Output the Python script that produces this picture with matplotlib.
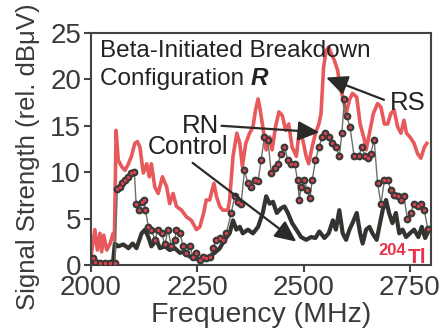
import matplotlib
matplotlib.use("Agg")
import matplotlib.pyplot as plt

plt.rcParams['font.family'] = ['Liberation Sans', 'DejaVu Sans']

# RS (red) trace
rs_freq = [2000, 2009, 2015, 2021, 2025, 2030, 2037, 2045, 2052, 2055, 2059, 2064,
           2072, 2080, 2088, 2095, 2103, 2109, 2115, 2123, 2131, 2137, 2142, 2150,
           2158, 2168, 2178, 2185, 2193, 2201, 2213, 2224, 2236, 2248, 2256, 2265,
           2271, 2279, 2289, 2295, 2303, 2310, 2322, 2326, 2334, 2343, 2350, 2356,
           2364, 2373, 2381, 2387, 2393, 2398, 2404, 2412, 2420, 2426, 2434, 2442,
           2450, 2458, 2465, 2473, 2483, 2490, 2498, 2506, 2512, 2520, 2528, 2536,
           2541, 2547, 2553, 2559, 2565, 2572, 2580, 2586, 2592, 2600, 2608, 2615,
           2625, 2633, 2643, 2647, 2655, 2664, 2674, 2682, 2690, 2698, 2705, 2713,
           2721, 2729, 2736, 2742, 2750, 2760, 2768, 2776, 2784, 2790]
rs_vals = [0.9, 3.8, 1.6, 3.4, 1.4, 3.2, 1.6, 2.3, 3.4, 2.7, 14.5, 11.3,
           10.6, 10.2, 10.9, 11.7, 13.1, 13.3, 12.7, 9.9, 10.9, 9.5, 10.9, 8.4,
           7.7, 9.5, 8.4, 6.6, 7.7, 6.3, 5.9, 5.2, 4.8, 3.8, 4.1, 5.6,
           7.0, 7.0, 8.8, 7.4, 6.3, 5.9, 5.9, 7.0, 11.7, 14.2, 13.1, 10.6,
           13.1, 14.2, 14.9, 16.7, 17.9, 16.7, 14.9, 12.4, 13.8, 12.4, 14.9, 16.5,
           16.1, 14.5, 15.2, 12.7, 11.7, 14.5, 13.5, 11.7, 10.9, 12.7, 14.2, 15.2,
           16.3, 21.3, 23.1, 23.5, 22.8, 22.1, 21.0, 19.2, 18.1, 16.3, 17.8, 18.5,
           18.1, 15.2, 13.5, 12.4, 14.2, 16.3, 17.4, 17.0, 15.2, 15.2, 16.3, 16.7,
           14.9, 14.2, 15.6, 14.2, 13.8, 13.1, 12.0, 11.5, 12.7, 13.1]

# RN (grey with markers) trace
rn_freq = [2004, 2009, 2020, 2032, 2044, 2056, 2062, 2068, 2074, 2081, 2088, 2095,
           2102, 2106, 2113, 2119, 2124, 2128, 2135, 2142, 2150, 2158, 2166, 2174,
           2181, 2189, 2197, 2201, 2209, 2217, 2224, 2232, 2240, 2248, 2256, 2264,
           2271, 2279, 2287, 2295, 2303, 2310, 2318, 2330, 2338, 2346, 2353, 2361,
           2369, 2377, 2385, 2393, 2400, 2408, 2416, 2424, 2432, 2440, 2447, 2455,
           2463, 2471, 2479, 2486, 2490, 2494, 2502, 2508, 2515, 2520, 2528, 2536,
           2544, 2551, 2559, 2567, 2576, 2584, 2590, 2596, 2601, 2609, 2619, 2630,
           2637, 2645, 2651, 2658, 2666, 2674, 2682, 2690, 2698, 2705, 2713, 2721,
           2729, 2736, 2744, 2752, 2760, 2768, 2776, 2784, 2792]
rn_vals = [0.7, 0.35, 0.2, 0.2, 0.2, 0.2, 8.2, 8.4, 8.8, 9.1, 9.5, 9.9,
           10.0, 6.6, 5.9, 6.8, 7.0, 5.9, 4.1, 3.8, 2.7, 3.8, 3.4, 2.2,
           3.8, 2.0, 2.7, 3.8, 3.4, 2.0, 1.3, 2.0, 0.9, 1.3, 0.5, 0.9,
           0.7, 0.9, 1.8, 2.7, 2.9, 2.7, 3.4, 5.6, 7.4, 6.8, 6.6, 10.2,
           8.8, 8.4, 9.1, 9.0, 11.3, 13.8, 13.5, 9.9, 10.4, 10.9, 12.0, 12.7,
           11.3, 10.9, 10.9, 9.1, 7.0, 8.4, 9.1, 8.1, 7.2, 9.1, 11.3, 12.7,
           13.8, 14.2, 13.8, 13.1, 12.7, 11.7, 14.2, 17.9, 16.1, 14.9, 11.7, 11.7,
           12.7, 11.7, 11.5, 12.0, 13.5, 8.8, 6.6, 9.1, 9.1, 8.1, 7.5, 7.4,
           7.0, 7.4, 5.0, 5.6, 6.6, 6.3, 6.6, 5.9, 3.9]

# Control (thick black) trace
ctl_freq = [2000, 2009, 2020, 2037, 2052, 2056, 2064, 2076, 2088, 2098, 2107, 2119,
            2127, 2135, 2142, 2154, 2162, 2174, 2185, 2197, 2209, 2221, 2232, 2244,
            2256, 2267, 2279, 2291, 2303, 2314, 2326, 2334, 2342, 2350, 2357, 2369,
            2381, 2393, 2404, 2412, 2420, 2428, 2437, 2447, 2455, 2463, 2473, 2483,
            2494, 2506, 2518, 2528, 2537, 2549, 2559, 2569, 2576, 2584, 2592, 2600,
            2608, 2615, 2625, 2633, 2639, 2647, 2655, 2662, 2672, 2678, 2686, 2694,
            2701, 2709, 2717, 2725, 2733, 2741, 2750, 2760, 2770, 2778, 2786, 2795]
ctl_vals = [0.7, 0.35, 0.2, 0.2, 0.35, 2.3, 2.0, 2.2, 1.8, 2.3, 1.8, 3.4,
            3.8, 3.0, 2.0, 2.7, 1.8, 2.0, 1.6, 1.8, 1.3, 1.4, 0.9, 0.7,
            0.5, 0.7, 0.9, 1.3, 1.8, 2.7, 3.4, 4.8, 3.8, 4.1, 3.4, 3.8,
            3.4, 4.1, 5.6, 7.4, 6.6, 6.8, 5.6, 6.1, 6.3, 5.6, 4.5, 3.8,
            3.0, 2.7, 3.0, 2.9, 3.6, 2.9, 3.4, 4.8, 3.8, 5.9, 3.4, 2.7,
            3.8, 4.5, 5.6, 3.4, 2.3, 3.8, 4.1, 3.4, 2.7, 4.1, 5.9, 7.0,
            5.6, 4.5, 5.6, 3.4, 3.8, 3.0, 3.4, 3.8, 3.0, 4.1, 2.9, 3.8]

RED = '#e8595b'
DARK = '#333330'
AXC = '#444444'
TXT = '#222222'
ISO = '#e8334a'

fig = plt.figure(figsize=(4.44, 3.34), dpi=100)
ax = fig.add_axes([0.205, 0.207, 0.766, 0.694])

ax.plot(rs_freq, rs_vals, color=RED, lw=2.6, zorder=2)
ax.plot(ctl_freq, ctl_vals, color=DARK, lw=3.0, zorder=3)
ax.plot(rn_freq, rn_vals, color='#6e6e6a', lw=1.0, zorder=4,
        marker='o', ms=4.6, mfc='#3a3a38', mec='#3a3a38')
ax.plot(rn_freq, rn_vals, ls='none', marker='o', ms=1.4, color='#e04050', zorder=5)

ax.set_xlim(2000, 2800)
ax.set_ylim(0, 25)
ax.set_xticks([2000, 2250, 2500, 2750])
ax.set_yticks([0, 5, 10, 15, 20, 25])
ax.tick_params(direction='out', length=5, width=1.5, color=AXC,
               labelsize=20, labelcolor='#3a3a3a', top=False, right=False, pad=2)
for s in ax.spines.values():
    s.set_color(AXC)
    s.set_linewidth(1.5)

ax.set_xlabel('Frequency (MHz)', fontsize=20.5, color='#3a3a3a', labelpad=1)
ax.set_ylabel('Signal Strength (rel. dBμV)', fontsize=18.5, color='#3a3a3a')
ax.yaxis.set_label_coords(-0.15, 0.466)

ax.text(0.026, 0.897, 'Beta-Initiated Breakdown', transform=ax.transAxes,
        fontsize=17.5, color=TXT, va='baseline', ha='left')
t = ax.text(0.026, 0.776, 'Configuration ', transform=ax.transAxes,
            fontsize=17.5, color=TXT, va='baseline', ha='left')
ax.annotate('R', xy=(1, 0), xycoords=t, fontsize=17.5, color=TXT,
            va='bottom', ha='left', fontweight='bold', fontstyle='italic')

arrow = dict(arrowstyle='-|>,head_length=1.3,head_width=0.6', color='#2a2a28', lw=1.6,
             shrinkA=0, shrinkB=0)
ax.annotate('', xy=(2553, 20.2), xytext=(2689, 17.8), arrowprops=arrow, zorder=6)
ax.annotate('', xy=(2537, 14.3), xytext=(2307, 15.0), arrowprops=arrow, zorder=6)
ax.annotate('', xy=(2483, 2.5), xytext=(2239, 11.0), arrowprops=arrow, zorder=6)

ax.text(2703, 17.5, 'RS', fontsize=18.5, color=TXT, va='center', ha='left')
ax.text(2302, 15.0, 'RN', fontsize=18.5, color=TXT, va='center', ha='right')
ax.text(2228, 12.7, 'Control', fontsize=18, color=TXT, va='center', ha='center')

ax.text(2741, 1.08, '204', fontsize=12, color=ISO, fontweight='bold',
        ha='right', va='baseline')
ax.text(2746, 0.2, 'Tl', fontsize=15, color=ISO, fontweight='bold',
        ha='left', va='baseline')

fig.savefig('out.png', dpi=100)
